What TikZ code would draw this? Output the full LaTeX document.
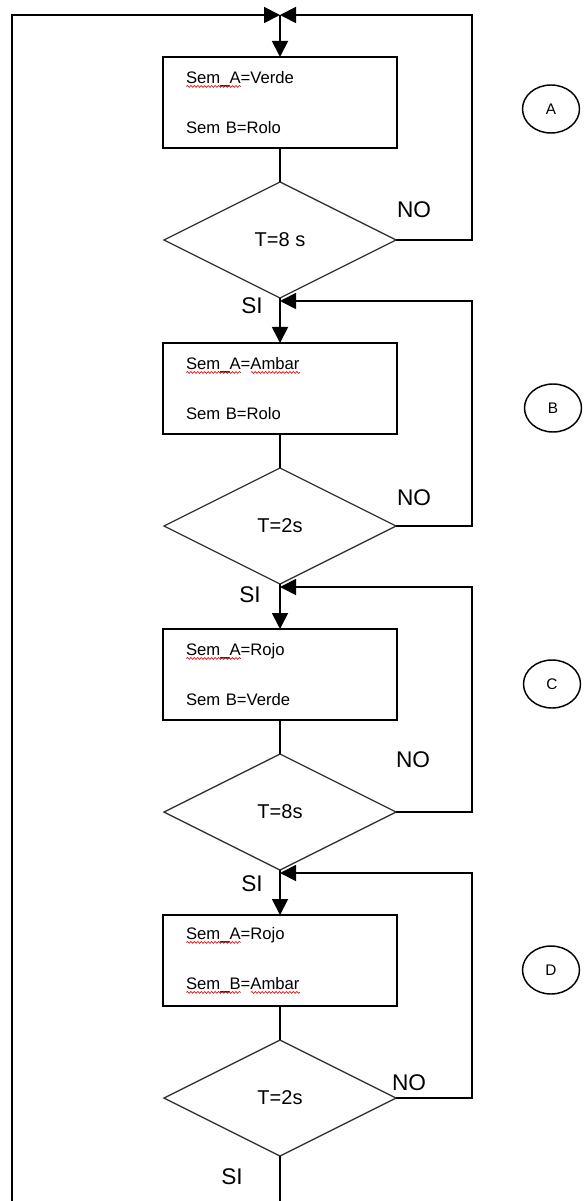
\documentclass[tikz,border=0pt]{standalone}
\usepackage{fontspec}
\setmainfont{Liberation Sans}
\usepackage{tikz}
\usetikzlibrary{arrows.meta,positioning,shapes.geometric,decorations.pathmorphing}
\newsavebox{\spellbox}
\newcommand{\spellmark}[1]{\leavevmode\sbox{\spellbox}{#1}\rlap{\raisebox{-3.2pt}{\tikz\draw[red, line width=0.5pt, decorate,
  decoration={snake, amplitude=0.7pt, segment length=2.6pt}] (0pt,0pt) -- (\wd\spellbox,0pt);}}#1}

\begin{document}
\begin{tikzpicture}[
  x=0.75pt, y=-0.75pt,
  >={Triangle[length=12pt,width=12pt]},
  node distance=25.5pt,
  box/.style={draw, line width=1.4pt, outer sep=0pt, inner xsep=17.25pt, inner ysep=0pt,
    text width=141pt, align=left, minimum height=68.25pt,
    font=\fontsize{12.5}{37.5}\selectfont},
  test/.style={draw=black!80, line width=1pt, diamond, outer sep=0pt, inner sep=0pt,
    minimum width=174pt, minimum height=87pt, font=\fontsize{15}{18}\selectfont},
  lbl/.style={font=\fontsize{17}{20}\selectfont, inner sep=0pt},
  tag/.style={draw, ellipse, line width=1.1pt, minimum width=42.75pt, minimum height=36pt,
    font=\fontsize{11.5}{13}\selectfont},
  line/.style={line width=1.4pt}
]
  \useasboundingbox (0,0) rectangle (587,1201);

  % states and tests
  \node[box] (bA) at (280,102.5) {\spellmark{Sem\_A}=Verde\\Sem B=Rolo};
  \node[test, below=of bA] (dA) {T=8 s};
  \node[box, below=33.75pt of dA] (bB) {\spellmark{Sem\_A}=\spellmark{Ambar}\\Sem B=Rolo};
  \node[test, below=of bB] (dB) {T=2s};
  \node[box, below=33.75pt of dB] (bC) {\spellmark{Sem\_A}=Rojo\\Sem B=Verde};
  \node[test, below=of bC] (dC) {T=8s};
  \node[box, below=33.75pt of dC] (bD) {\spellmark{Sem\_A}=Rojo\\\spellmark{Sem\_B}=\spellmark{Ambar}};
  \node[test, below=of bD] (dD) {T=2s};

  % phase tags
  \node[tag] (tA) at (551,109) {A};
  \node[tag] (tB) at (553,408) {B};
  \node[tag] (tC) at (552,684) {C};
  \node[tag] (tD) at (551,970) {D};

  % join points
  \coordinate (mA) at (280,15);
  \coordinate[below=2.25pt of dA.south] (mB);
  \coordinate[below=2.25pt of dB.south] (mC);
  \coordinate[below=2.25pt of dC.south] (mD);
  \coordinate (lend) at (12,1201);
  \coordinate (bend) at (280,1201);

  % flow
  \draw[line,->] (lend) |- (mA);
  \draw[line,->] (mA) -- (bA);
  \draw[line] (bA) -- (dA);
  \draw[line,->] (dA) -- (bB);
  \draw[line] (bB) -- (dB);
  \draw[line,->] (dB) -- (bC);
  \draw[line] (bC) -- (dC);
  \draw[line,->] (dC) -- (bD);
  \draw[line] (bD) -- (dD);
  \draw[line] (dD) -- (bend);

  % loops back
  \draw[line,->] (dA.east) -- ++(76,0) |- (mA);
  \draw[line,->] (dB.east) -- ++(76,0) |- (mB);
  \draw[line,->] (dC.east) -- ++(76,0) |- (mC);
  \draw[line,->] (dD.east) -- ++(76,0) |- (mD);

  % answers
  \node[lbl] (noA) at (414,210) {NO};
  \node[lbl] (siA) at (252,306) {SI};
  \node[lbl] (noB) at (414,498) {NO};
  \node[lbl] (siB) at (250,595) {SI};
  \node[lbl] (noC) at (413,760) {NO};
  \node[lbl] (siC) at (252,884) {SI};
  \node[lbl] (noD) at (409,1083) {NO};
  \node[lbl] (siD) at (232,1177) {SI};
\end{tikzpicture}
\end{document}
